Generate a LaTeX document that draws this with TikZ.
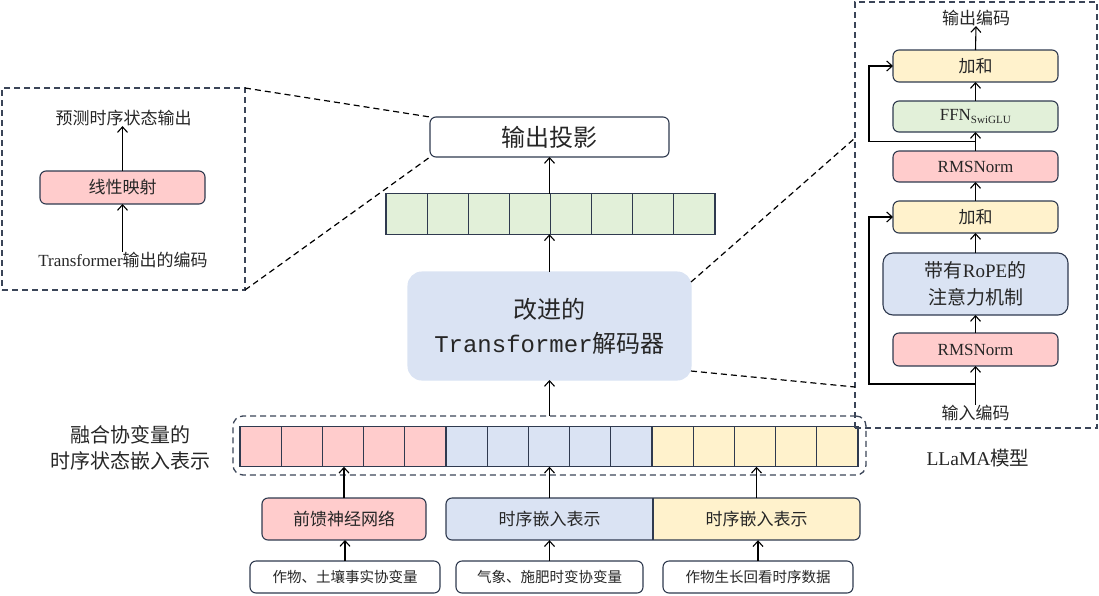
\documentclass[tikz,border=0pt]{standalone}
\usepackage{fontspec}
\setmainfont{Liberation Serif}
\newfontfamily\cjk{Noto Sans CJK SC}
\newfontfamily\monof{Liberation Mono}
\usetikzlibrary{arrows.meta,calc}
\definecolor{cpink}{HTML}{FFCCCC}
\definecolor{cblue}{HTML}{DAE3F3}
\definecolor{cyel}{HTML}{FFF2CC}
\definecolor{cgreen}{HTML}{E2F0D9}
\definecolor{bord}{HTML}{2F3A4F}
\definecolor{dashc}{HTML}{3B4558}
\definecolor{txt}{HTML}{262626}
\tikzset{
  arr/.style={-{Straight Barb[length=5.5pt,width=10pt]}, line width=1.1pt, draw=black},
  box/.style={draw=bord, line width=1.1pt, rounded corners=6pt, inner sep=0pt, outer sep=0pt, text=txt},
  cell/.style={draw=bord, line width=1.1pt, inner sep=0pt, outer sep=0pt, minimum height=40.5pt},
  dashbox/.style={draw=dashc, line width=1.3pt, dash pattern=on 6pt off 4pt, inner sep=0pt, outer sep=0pt},
  dashln/.style={draw=black, line width=1.2pt, dash pattern=on 6pt off 4pt},
  lbl/.style={text=txt, inner sep=0pt, align=center},
  f17/.style={font=\fontsize{17}{20}\selectfont},
  f15/.style={font=\fontsize{14.5}{17}\selectfont},
}
\begin{document}
\begin{tikzpicture}[x=1pt,y=-1pt]
\useasboundingbox (0,0) rectangle (1099,595);

% ---------- left detail box ----------
\node[dashbox, minimum width=243, minimum height=202] (lbox) at (123.5,189) {};
\node[lbl,f17] (ptxt) at (123.5,118) {\cjk 预测时序状态输出};
\node[box,f17,fill=cpink,minimum width=165,minimum height=33] (lin) at (122.5,187.5) {\cjk 线性映射};
\node[lbl,f17] (ttxt) at (123,260) {Transformer{\cjk 输出的编码}};
\draw[arr] (lin.south |- ttxt.north) -- (lin.south);
\draw[arr] (lin.north) -- (lin.north |- ptxt.south);

% ---------- main column ----------
\node[box,fill=white,minimum width=239,minimum height=40,font=\fontsize{24}{28}\selectfont] (proj) at (549.5,137) {\cjk 输出投影};

\node[inner sep=0pt,outer sep=0pt,minimum width=329,minimum height=40.5] (gvec) at (550.5,214) {};
\foreach \i in {1,...,8}
  \node[cell,fill=cgreen,minimum width=41.125] (g\i) at ({386+41.125*(\i-0.5)},214) {};

\node[box,draw=cblue,fill=cblue,rounded corners=14pt,minimum width=283,minimum height=108,align=center,font=\fontsize{24}{34}\selectfont] (dec) at (549.5,326) {{\cjk 改进的}\\{\monof Transformer}{\cjk 解码器}};

% embedding vector
\foreach \i in {1,...,5}
  \node[cell,fill=cpink,minimum width=41.2] (e\i) at ({240+41.2*(\i-0.5)},446.5) {};
\foreach \i in {6,...,10}
  \node[cell,fill=cblue,minimum width=41.2] (e\i) at ({240+41.2*(\i-0.5)},446.5) {};
\foreach \i in {11,...,15}
  \node[cell,fill=cyel,minimum width=41.2] (e\i) at ({240+41.2*(\i-0.5)},446.5) {};
\node[dashbox,rounded corners=10pt,minimum width=633,minimum height=59] (embbox) at (549.5,445.5) {};
\node[lbl,font=\fontsize{20}{26}\selectfont] (emblbl) at (130,448) {\cjk 融合协变量的\\\cjk 时序状态嵌入表示};

% encoders
\node[box,f17,fill=cpink,minimum width=164,minimum height=42] (ffn) at (344,519) {\cjk 前馈神经网络};
\begin{scope}
  \clip (446,495) rectangle (653,545);
  \fill[cblue,rounded corners=6pt] (446,498) rectangle (700,540);
\end{scope}
\begin{scope}
  \clip (653,495) rectangle (862,545);
  \fill[cyel,rounded corners=6pt] (600,498) rectangle (860,540);
\end{scope}
\draw[draw=bord,line width=1.1pt,rounded corners=6pt] (446,498) rectangle (860,540);
\draw[draw=bord,line width=1.1pt] (653,498) -- (653,540);
\node[lbl,f17,minimum width=207,minimum height=42] (ts1) at (549.5,519) {\cjk 时序嵌入表示};
\node[lbl,f17,minimum width=207,minimum height=42] (ts2) at (756.5,519) {\cjk 时序嵌入表示};

\node[box,f15,fill=white,minimum width=190,minimum height=32] (in1) at (345,577) {\cjk 作物、土壤事实协变量};
\node[box,f15,fill=white,minimum width=187,minimum height=32] (in2) at (549.5,577) {\cjk 气象、施肥时变协变量};
\node[box,f15,fill=white,minimum width=190,minimum height=32] (in3) at (758,577) {\cjk 作物生长回看时序数据};

\draw[arr] (in1.north) -- (in1.north |- ffn.south);
\draw[arr] (ffn.north) -- (ffn.north |- e3.south);
\draw[arr] (in2.north) -- (in2.north |- ts1.south);
\draw[arr] (ts1.north) -- (ts1.north |- e8.south);
\draw[arr] (in3.north) -- (in3.north |- ts2.south);
\draw[arr] (ts2.north) -- (ts2.north |- e13.south);
\draw[arr] (embbox.north) -- (embbox.north |- dec.south);
\draw[arr] (dec.north) -- (dec.north |- gvec.south);
\draw[arr] (dec.north |- gvec.north) -- (dec.north |- proj.south);

% ---------- right detail box ----------
\node[dashbox, minimum width=242, minimum height=426] (rbox) at (976,215) {};
\node[lbl,f17] (otxt) at (976,18) {\cjk 输出编码};
\node[box,f17,fill=cyel,minimum width=165,minimum height=32] (add2) at (975.5,66) {\cjk 加和};
\node[box,f17,fill=cgreen,minimum width=165,minimum height=31] (ffn2) at (975.5,116.5) {FFN\textsubscript{\fontsize{11}{12}\selectfont SwiGLU}};
\node[box,f17,fill=cpink,minimum width=165,minimum height=31] (rms2) at (975.5,166.5) {RMSNorm};
\node[box,f17,fill=cyel,minimum width=165,minimum height=32] (add1) at (975.5,217) {\cjk 加和};
\node[box,fill=cblue,rounded corners=10pt,minimum width=185,minimum height=62,align=center,font=\fontsize{19}{27}\selectfont] (att) at (975.5,284) {{\cjk 带有}RoPE{\cjk 的}\\\cjk 注意力机制};
\node[box,f17,fill=cpink,minimum width=165,minimum height=33] (rms1) at (975.5,349.5) {RMSNorm};
\node[lbl,f17] (itxt) at (975.5,413) {\cjk 输入编码};
\node[lbl,font=\fontsize{19.5}{24}\selectfont] (llama) at (978,458) {LLaMA{\cjk 模型}};

\coordinate (r1) at (975.5,384);
\coordinate (r1l) at (869,384);
\coordinate (r2) at (975.5,141.5);
\coordinate (r2l) at (869,141.5);

\draw[arr] (itxt.north) -- (rms1.south);
\draw[arr] (rms1.north) -- (att.south);
\draw[arr] (att.north) -- (add1.south);
\draw[arr] (add1.north) -- (rms2.south);
\draw[arr] (rms2.north) -- (ffn2.south);
\draw[arr] (ffn2.north) -- (add2.south);
\draw[arr] (add2.north) -- (otxt.south);
\draw[arr] (r1) -- (r1l) |- (add1.west);
\draw[arr] (r2) -- (r2l) |- (add2.west);

% ---------- zoom connectors ----------
\coordinate (rb1) at (855,138);
\coordinate (rb2) at (855,387);
\draw[dashln] (lbox.north east) -- (proj.north west);
\draw[dashln] (lbox.south east) -- (proj.south west);
\draw[dashln] ([yshift=-10pt]dec.north east) -- (rb1);
\draw[dashln] ([yshift=9pt]dec.south east) -- (rb2);
\end{tikzpicture}
\end{document}
